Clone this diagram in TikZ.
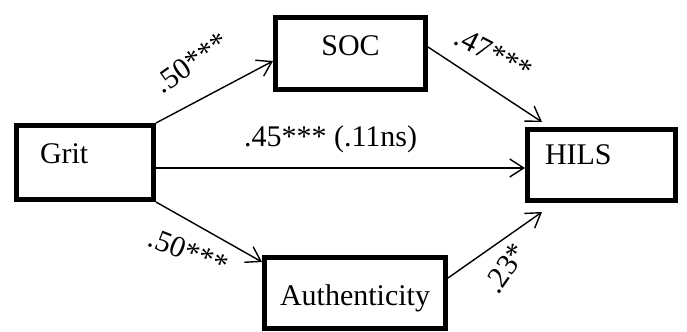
\documentclass[tikz,border=0pt]{standalone}
\usepackage{fontspec}
\setmainfont{Liberation Serif}
\usepackage{tikz}
\usetikzlibrary{positioning}
\usetikzlibrary{arrows.meta}
\tikzset {
  % boxed variable
  box/.style = {draw, line width=2.5pt, inner ysep=0pt, inner xsep=0pt,
    font=\fontsize{15}{18}\selectfont},
  % path arrows
  arr/.style = {-{Straight Barb[length=7pt,width=9pt]}, line width=0.7pt},
  % coefficient on an arrow
  coef/.style = {sloped, inner sep=1pt, font=\fontsize{15}{18}\selectfont},
}
\begin{document}
\begin{tikzpicture}[x=0.5pt, y=-0.5pt]
      \useasboundingbox (0,0) rectangle (687,332);

      \node[box, text width=45pt, align=left, inner xsep=11.75pt,
            text height=18.75pt, text depth=18.25pt] (grit) at (85,162.5) {Grit};
      \node[box, minimum width=75pt,
            text height=18.75pt, text depth=17.25pt] (soc) at (350.5,53.5) {SOC};
      \node[box, text width=56.5pt, align=left, inner xsep=8.75pt,
            text height=17.25pt, text depth=18.25pt] (hils) at (601.5,165) {HILS};
      \node[box, minimum width=90.5pt,
            text height=23.75pt, text depth=11.75pt] (auth) at (355,293) {Authenticity};

      \draw[arr] (grit.north east) -- node[coef, pos=0.46, above=12pt, rotate=7] (a1) {.50***} ([yshift=-3.75pt]soc.west);
      \draw[arr] ([yshift=3.25pt]soc.east) -- node[coef, pos=0.44, above=9pt, rotate=6] (b1) {.47***} ([xshift=8.5pt, yshift=2.5pt]hils.north west);
      \draw[arr] ([yshift=-2.75pt]grit.east) -- node[coef, pos=0.473, above=6pt] (c1) {.45*** (.11ns)} ([yshift=-2.75pt]grit.east -| hils.west);
      \draw[arr] (grit.south east) -- node[coef, pos=0.42, below=7pt, rotate=8] (a2) {.50***} ([yshift=-3.5pt]auth.north west);
      \draw[arr] ([yshift=7.5pt]auth.east) -- node[coef, pos=0.42, below=6.5pt, rotate=20] (b2) {.23*} ([xshift=8.5pt, yshift=-4.5pt]hils.south west);
    \end{tikzpicture}
\end{document}
